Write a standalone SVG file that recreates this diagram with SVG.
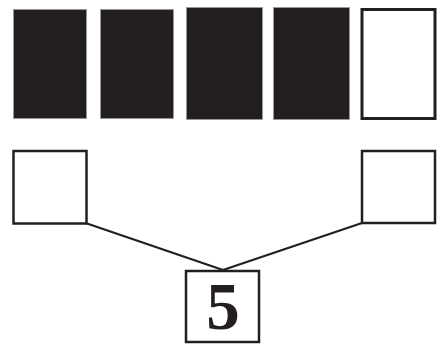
<svg xmlns="http://www.w3.org/2000/svg" width="438" height="344" viewBox="0 0 438 344">
<style>
.fill{fill:#231f20;stroke:#999;stroke-width:0.8}
.box{fill:#fff;stroke:#231f20;stroke-width:2.5}
.edge{stroke:#231f20;stroke-width:2.2;fill:none}
.num{font-family:"Liberation Serif",serif;font-weight:bold;font-size:67px;fill:#231f20;text-anchor:middle}
</style>
<rect width="438" height="344" fill="#fff"/>
<g id="bar1"><rect class="fill" x="13.5" y="9.5" width="73" height="109"/></g>
<g id="bar2"><rect class="fill" x="100.5" y="9.5" width="73" height="109"/></g>
<g id="bar3"><rect class="fill" x="186.5" y="7.5" width="76" height="112"/></g>
<g id="bar4"><rect class="fill" x="273.5" y="7.5" width="76" height="112"/></g>
<g id="bar5"><rect x="362" y="9.5" width="73" height="109" fill="#fff" stroke="#231f20" stroke-width="3"/></g>
<g id="left"><rect class="box" x="13.5" y="151" width="73" height="72.5"/></g>
<g id="right"><rect class="box" x="362" y="151" width="73" height="72"/></g>
<g id="connectors">
<line class="edge" x1="87" y1="223.5" x2="223" y2="270"/>
<line class="edge" x1="362" y1="223" x2="223" y2="270"/>
</g>
<g id="result"><rect class="box" x="186" y="271" width="73" height="71"/><text class="num" x="223" y="329">5</text></g>
</svg>
